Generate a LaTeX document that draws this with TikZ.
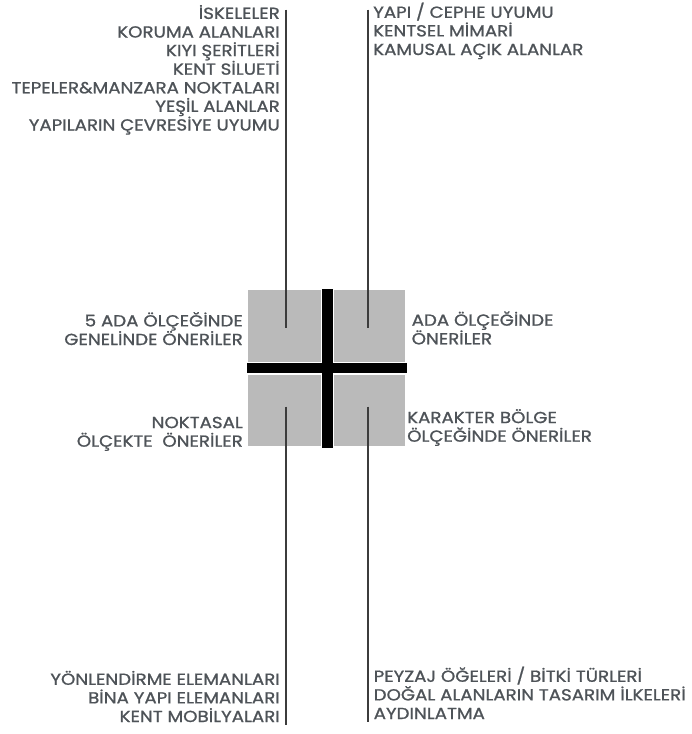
\documentclass[tikz,border=0pt]{standalone}
\usepackage{fontspec}
\setmainfont{Poppins}[FakeStretch=1.14, FakeBold=1.1]
\usetikzlibrary{positioning}

\definecolor{labelgray}{RGB}{78,83,88}
\definecolor{linegray}{RGB}{60,60,60}
\definecolor{quadgray}{RGB}{186,186,186}

\begin{document}
\begin{tikzpicture}[
    x=1pt, y=-1pt,
    quad/.style={rectangle, fill=quadgray, inner sep=0pt, anchor=north west},
    bar/.style={fill=black, inner sep=0pt},
    lbl/.style={inner sep=0pt, text=labelgray, font=\fontsize{16}{18.6}\selectfont},
    lblright/.style={lbl, align=right, anchor=base east},
    lblleft/.style={lbl, align=left, anchor=base west},
    line/.style={draw=linegray, line width=2pt}
]
\useasboundingbox (0,0) rectangle (692,734);

% four quadrants and the cross
\node [quad, minimum width=73pt, minimum height=72pt] (qtl) at (248,290) {};
\node [quad, minimum width=71pt, minimum height=72pt] (qtr) at (334,290) {};
\node [quad, minimum width=73pt, minimum height=71pt] (qbl) at (248,375) {};
\node [quad, minimum width=71pt, minimum height=71pt] (qbr) at (334,375) {};
\node [bar, minimum width=11pt, minimum height=159pt] (vbar) at (327.2,368) {};
\node [bar, minimum width=160pt, minimum height=9.5pt] (hbar) at (327,368) {};

% quadrant titles (placed by the baseline of their last line)
\node [lblright] (tltitle) at (243,345) {5 ADA ÖLÇEĞİNDE\\GENELİNDE ÖNERİLER};
\node [lblleft] (trtitle) at (411.5,344.3) {ADA ÖLÇEĞİNDE\\ÖNERİLER};
\node [lblright] (bltitle) at (243,446.7) {NOKTASAL\\ÖLÇEKTE\ \ ÖNERİLER};
\node [lblleft] (brtitle) at (407,441.7) {KARAKTER BÖLGE\\ÖLÇEĞİNDE ÖNERİLER};

% lists
\node [lblright] (tllist) at (280,130.5) {İSKELELER\\KORUMA ALANLARI\\KIYI ŞERİTLERİ\\KENT SİLUETİ\\TEPELER\&MANZARA NOKTALARI\\YEŞİL ALANLAR\\YAPILARIN ÇEVRESİYE UYUMU};
\node [lblleft] (trlist) at (373,55) {YAPI / CEPHE UYUMU\\KENTSEL MİMARİ\\KAMUSAL AÇIK ALANLAR};
\node [lblright] (bllist) at (280,722) {YÖNLENDİRME ELEMANLARI\\BİNA YAPI ELEMANLARI\\KENT MOBİLYALARI};
\node [lblleft] (brlist) at (373.5,719) {PEYZAJ ÖĞELERİ / BİTKİ TÜRLERİ\\DOĞAL ALANLARIN TASARIM İLKELERİ\\AYDINLATMA};

% connector ends
\coordinate (tltop) at (285.5,9.5);
\coordinate (tlend) at (285.5,328.3);
\coordinate (trtop) at (367.5,9.5);
\coordinate (trend) at (367.5,328.3);
\coordinate (blend) at (285.5,406.7);
\coordinate (blbot) at (285.5,725);
\coordinate (brend) at (367.5,406.7);
\coordinate (brbot) at (367.5,722);

\path [line] (tltop) -- (tlend);
\path [line] (trtop) -- (trend);
\path [line] (blend) -- (blbot);
\path [line] (brend) -- (brbot);
\end{tikzpicture}
\end{document}
